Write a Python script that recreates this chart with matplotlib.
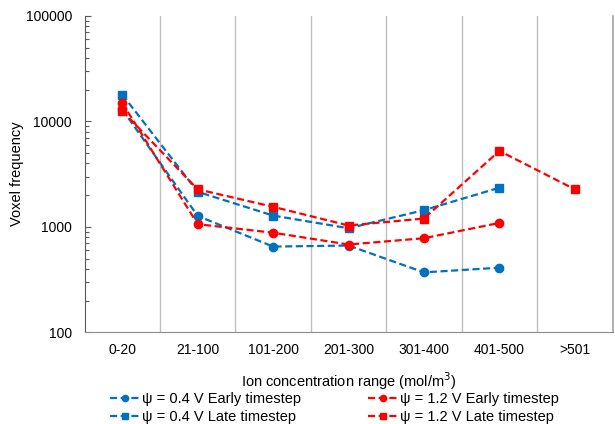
import matplotlib

matplotlib.use("Agg")
import matplotlib.pyplot as plt
import numpy as np

plt.rcParams["font.family"] = ["Liberation Sans", "DejaVu Sans"]

categories = ["0-20", "21-100", "101-200", "201-300", "301-400", "401-500", ">501"]

# voxel counts per range (None = no voxels in that range)
early_04 = [13000, 1270, 650, 665, 370, 410, None]
late_04 = [18000, 2150, 1280, 970, 1440, 2350, None]
early_12 = [15000, 1060, 880, 680, 780, 1090, None]
late_12 = [12600, 2270, 1550, 1030, 1200, 5250, 2270]

BLUE = "#0070C0"
RED = "#FF0000"


def _nan(xs):
    return [np.nan if v is None else v for v in xs]


fig = plt.figure(figsize=(6.15, 4.24), dpi=100)
ax = fig.add_axes([0.1374, 0.2163, 0.8586, 0.746])

x = np.arange(len(categories))
series = [
    (early_04, BLUE, "o", "\u03c8 = 0.4 V Early timestep"),
    (late_04, BLUE, "s", "\u03c8 = 0.4 V Late timestep"),
    (early_12, RED, "o", "\u03c8 = 1.2 V Early timestep"),
    (late_12, RED, "s", "\u03c8 = 1.2 V Late timestep"),
]
for ys, col, mk, lab in series:
    ax.plot(x, _nan(ys), color=col, marker=mk, markersize=6, linewidth=1.6,
            linestyle=(0, (3.2, 1.6)), label=lab)

ax.set_yscale("log")
ax.set_ylim(100, 100000)
ax.set_xlim(-0.5, len(categories) - 0.5)

# vertical separators between the categories
for b in np.arange(0.5, len(categories) - 0.5, 1.0):
    ax.axvline(b, color="#BFBFBF", linewidth=1.0, zorder=0)

ax.set_xticks(x)
ax.set_xticklabels(categories)
ax.tick_params(axis="x", length=0, pad=8, labelsize=10)
ax.tick_params(axis="y", which="major", direction="in", length=4, width=0.8,
               color="#595959", pad=9, labelsize=10)
ax.tick_params(axis="y", which="minor", direction="in", length=3, width=0.8,
               color="#595959")
ax.yaxis.set_major_formatter(matplotlib.ticker.FuncFormatter(lambda v, p: f"{v:.0f}"))
ax.yaxis.set_minor_formatter(matplotlib.ticker.NullFormatter())

ax.spines["top"].set_visible(False)
ax.spines["left"].set_color("#595959")
ax.spines["bottom"].set_color("#8C8C8C")
ax.spines["right"].set_color("#A6A6A6")
ax.spines["right"].set_linewidth(1.2)

ax.set_ylabel("Voxel frequency", fontsize=10.5, labelpad=1)
ax.set_xlabel("Ion concentration range (mol/m$^3$)", fontsize=10.5, labelpad=9)

fig.legend(loc="upper left", bbox_to_anchor=(110 / 615, 1 - 392 / 424), ncol=2,
           frameon=False, fontsize=10.5, numpoints=1, handlelength=2.0,
           handletextpad=0.2, columnspacing=4.6, labelspacing=0.25,
           markerscale=0.75, borderpad=0, borderaxespad=0)

fig.savefig("out.png", dpi=100)
